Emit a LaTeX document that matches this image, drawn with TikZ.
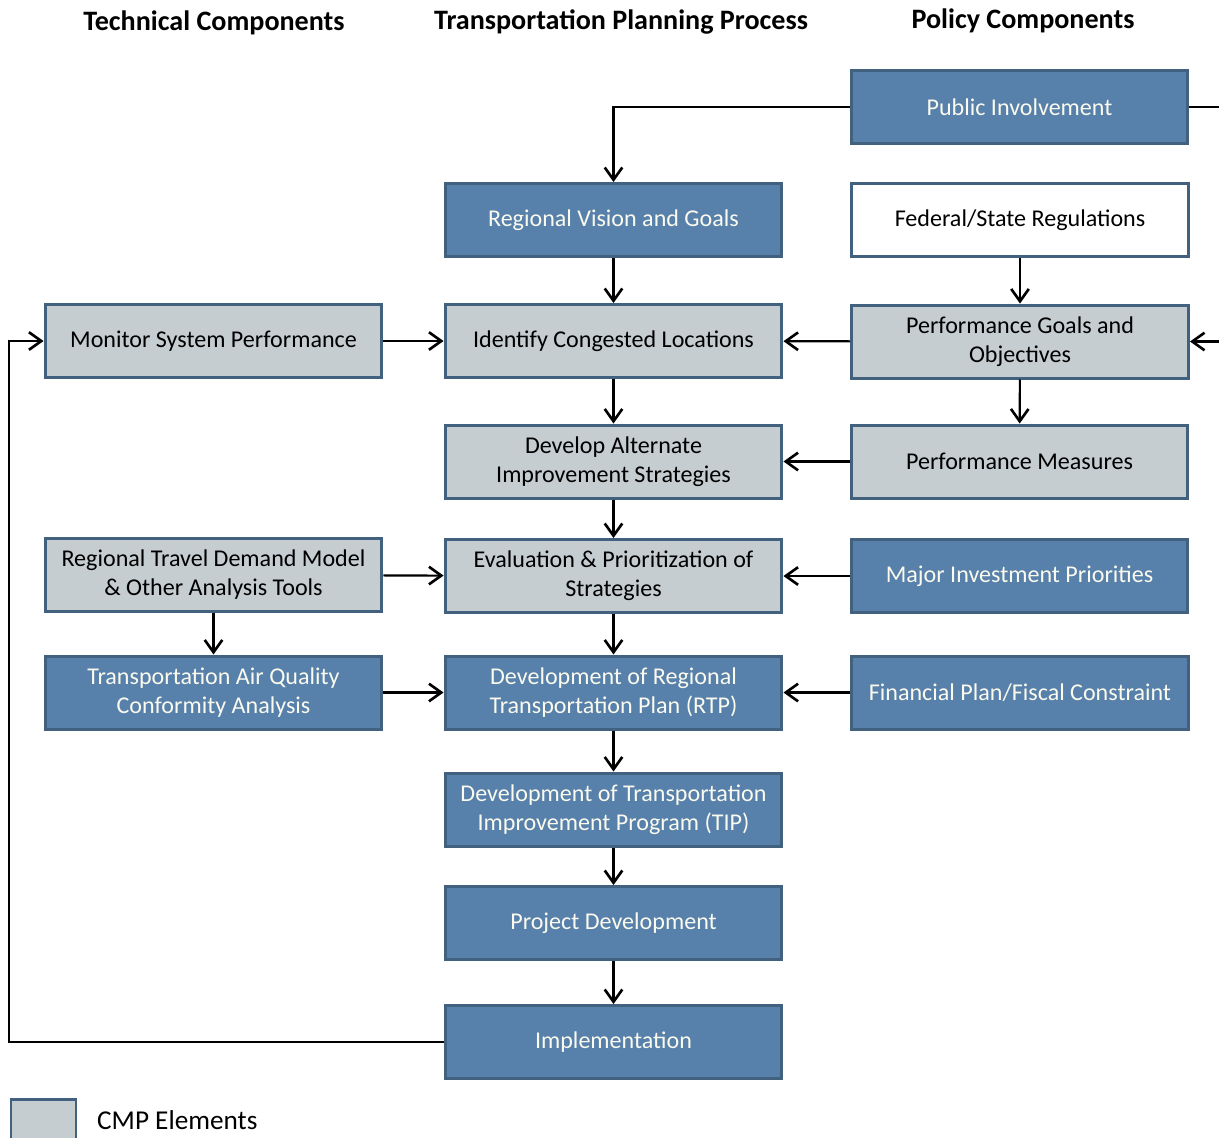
\documentclass[tikz,border=0pt]{standalone}
\usepackage{fontspec}
\setmainfont{Carlito}
\usetikzlibrary{arrows.meta}
\definecolor{boxblue}{HTML}{5780AB}
\definecolor{boxgray}{HTML}{C5CDD1}
\definecolor{boxedge}{HTML}{41617F}
\definecolor{cream}{HTML}{FAFAEE}

\begin{document}
\begin{tikzpicture}[x=0.02cm, y=-0.02cm,
    box/.style={draw=boxedge, line width=1.7pt, minimum width=6.74cm, minimum height=1.46cm,
      inner sep=0pt, align=center, font=\fontsize{13.7}{16.5}\selectfont},
    bluebox/.style={box, fill=boxblue, text=cream},
    graybox/.style={box, fill=boxgray, text=black},
    whitebox/.style={box, fill=white, text=black},
    head/.style={font=\bfseries\fontsize{16}{19}\selectfont},
    arr/.style={line width=1.2pt, -{Straight Barb[length=7pt,width=10pt,line width=1.5pt]}},
    line/.style={line width=1.2pt}]
    \clip (0,0) rectangle (1219,1137);

    % Column headings
    \node[head] (H1) at (214,23) {Technical Components};
    \node[head] (H2) at (621,22) {Transportation Planning Process};
    \node[head] (H3) at (1023,21) {Policy Components};

    % Policy components
    \node[bluebox] (PI) at (1019.5,107) {Public Involvement};
    \node[whitebox] (FR) at (1020,220) {Federal/State Regulations};
    \node[graybox] (PG) at (1020,341.5) {Performance Goals and\\Objectives};
    \node[graybox] (PM) at (1019.5,461.5) {Performance Measures};
    \node[bluebox] (MI) at (1019.5,576) {Major Investment Priorities};
    \node[bluebox] (FP) at (1020,692.5) {Financial Plan/Fiscal Constraint};

    % Planning process
    \node[bluebox] (RV) at (613.5,220) {Regional Vision and Goals};
    \node[graybox] (IC) at (613.5,341) {Identify Congested Locations};
    \node[graybox] (DA) at (613.5,461.5) {Develop Alternate\\Improvement Strategies};
    \node[graybox] (EP) at (613.5,576) {Evaluation \& Prioritization of\\Strategies};
    \node[bluebox] (RTP) at (613.5,692.5) {Development of Regional\\Transportation Plan (RTP)};
    \node[bluebox] (TIP) at (613.5,809.5) {Development of Transportation\\Improvement Program (TIP)};
    \node[bluebox] (PD) at (613.5,923) {Project Development};
    \node[bluebox] (IM) at (613.5,1042) {Implementation};

    % Technical components
    \node[graybox] (MS) at (213.5,341) {Monitor System Performance};
    \node[graybox] (TD) at (213.5,575) {Regional Travel Demand Model\\\& Other Analysis Tools};
    \node[bluebox] (AQ) at (213.5,692.5) {Transportation Air Quality\\Conformity Analysis};

    % Legend
    \node[graybox, minimum width=1.3cm, minimum height=1cm] (LG) at (43.5,1124) {};
    \node[anchor=west, font=\fontsize{15.5}{18}\selectfont] (LT) at (91,1120) {CMP Elements};

    % Loop ends
    \coordinate (E1) at (1219,107);
    \coordinate (E2) at (1219,341.5);
    \coordinate (L1) at (9,1042);

    % Connectors
    \draw[arr] (PI.west) -| (RV.north);
    \draw[line] (PI.east) -- (E1);
    \draw[arr] (E2) -- (PG.east);
    \draw[arr] (RV) -- (IC);
    \draw[arr] (IC) -- (DA);
    \draw[arr] (DA) -- (EP);
    \draw[arr] (EP) -- (RTP);
    \draw[arr] (RTP) -- (TIP);
    \draw[arr] (TIP) -- (PD);
    \draw[arr] (PD) -- (IM);
    \draw[arr] (FR) -- (PG);
    \draw[arr] (PG) -- (PM);
    \draw[arr] (PG) -- (IC);
    \draw[arr] (PM) -- (DA);
    \draw[arr] (MI) -- (EP);
    \draw[arr] (FP) -- (RTP);
    \draw[arr] (MS) -- (IC);
    \draw[arr] (TD) -- (EP);
    \draw[arr] (TD) -- (AQ);
    \draw[arr] (AQ) -- (RTP);
    \draw[arr] (IM.west) -- (L1) |- (MS.west);
\end{tikzpicture}
\end{document}
